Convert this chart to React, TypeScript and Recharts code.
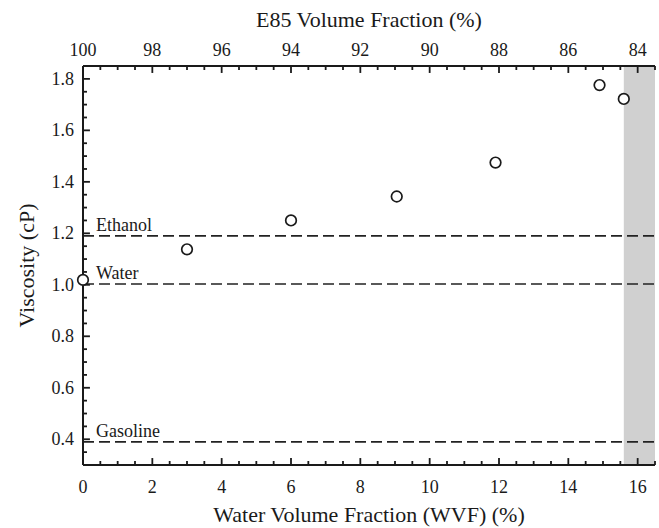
import React from "react";
import {
  ComposedChart, Scatter, XAxis, YAxis, ReferenceLine, ReferenceArea,
} from "recharts";

// water volume fraction (%) vs viscosity (cP)
const wvf = [0, 3.0, 6.0, 9.05, 11.9, 14.9, 15.6];
const viscosity = [1.019, 1.138, 1.25, 1.343, 1.475, 1.776, 1.722];

const refNames = ["Ethanol", "Water", "Gasoline"];
const refValues = [1.19, 1.003, 0.39];

const xMajor = [0, 2, 4, 6, 8, 10, 12, 14, 16];
const yMajor = [0.4, 0.6, 0.8, 1.0, 1.2, 1.4, 1.6, 1.8];

const bandStart = 15.6;
const bandEnd = 16.5;

const X_MIN = 0, X_MAX = 16.5, Y_MIN = 0.3, Y_MAX = 1.85;

const data = wvf.map((x, i) => ({ x, y: viscosity[i] }));

// minor ticks every 0.5 on x, every 0.05 on y
const xTicks: number[] = [];
for (let i = 0; i <= 33; i++) xTicks.push(i * 0.5);
const yTicks: number[] = [];
for (let i = 6; i <= 37; i++) yTicks.push(Math.round(i * 5) / 100);

const FONT = "'Liberation Serif', 'Times New Roman', serif";
const INK = "#1a1a1a";

const isMajorX = (v: number) => xMajor.some((m) => Math.abs(m - v) < 1e-6);
const isMajorY = (v: number) => yMajor.some((m) => Math.abs(m - v) < 1e-6);

// inward tick lengths in data units (~7px major, ~4px minor)
const xLen = (v: number) => (isMajorY(v) ? 0.2 : 0.115);
const yLen = (v: number) => (isMajorX(v) ? 0.027 : 0.0155);

const BottomTick = (props: any) => {
  const { x, y, payload } = props;
  if (!isMajorX(payload.value)) return <g />;
  return (
    <text x={x} y={y + 22} textAnchor="middle" dominantBaseline="central"
      fontFamily={FONT} fontSize={18} fill={INK}>
      {payload.value}
    </text>
  );
};

const TopTick = (props: any) => {
  const { x, y, payload } = props;
  if (!isMajorX(payload.value)) return <g />;
  return (
    <text x={x} y={y - 16} textAnchor="middle" dominantBaseline="central"
      fontFamily={FONT} fontSize={18} fill={INK}>
      {100 - payload.value}
    </text>
  );
};

const LeftTick = (props: any) => {
  const { x, y, payload } = props;
  if (!isMajorY(payload.value)) return <g />;
  return (
    <text x={x - 9} y={y} textAnchor="end" dominantBaseline="central"
      fontFamily={FONT} fontSize={18} fill={INK}>
      {payload.value.toFixed(1)}
    </text>
  );
};

const Circle = (props: any) => (
  <circle cx={props.cx} cy={props.cy} r={5.3} fill="white" stroke={INK} strokeWidth={1.7} />
);

const refLabel = (name: string) => (props: any) => {
  const vb = props.viewBox;
  return (
    <text x={vb.x + 13} y={vb.y - 5} fontFamily={FONT} fontSize={18} fill={INK}>
      {name}
    </text>
  );
};

export default function App() {
  return (
    <div style={{ position: "absolute", left: 0, top: 0, background: "white" }}>
      <ComposedChart width={659} height={528} data={data}
        margin={{ top: 36, right: 4, bottom: 33, left: 43 }}>
        <ReferenceArea xAxisId="bottom" yAxisId="left" x1={bandStart} x2={bandEnd}
          y1={Y_MIN} y2={Y_MAX} fill="#d0d0d0" fillOpacity={1} stroke="none" />
        <XAxis xAxisId="bottom" dataKey="x" type="number" domain={[X_MIN, X_MAX]} ticks={xTicks}
          interval={0} height={30} tickSize={0} tickMargin={0} tickLine={false}
          axisLine={{ stroke: INK, strokeWidth: 2 }} tick={<BottomTick />}
          label={{
            content: (p: any) => (
              <text x={p.viewBox.x + p.viewBox.width / 2} y={p.viewBox.y + 49}
                textAnchor="middle" dominantBaseline="central" fontFamily={FONT} fontSize={22} fill={INK}>
                Water Volume Fraction (WVF) (%)
              </text>
            ),
          }} />
        <XAxis xAxisId="top" dataKey="x" orientation="top" type="number" domain={[X_MIN, X_MAX]} ticks={xTicks}
          interval={0} height={30} tickSize={0} tickMargin={0} tickLine={false}
          axisLine={{ stroke: INK, strokeWidth: 2 }} tick={<TopTick />}
          label={{
            content: (p: any) => (
              <text x={p.viewBox.x + p.viewBox.width / 2} y={p.viewBox.y - 17}
                textAnchor="middle" dominantBaseline="central" fontFamily={FONT} fontSize={22} fill={INK}>
                E85 Volume Fraction (%)
              </text>
            ),
          }} />
        <YAxis yAxisId="left" type="number" domain={[Y_MIN, Y_MAX]} ticks={yTicks} interval={0}
          width={40} tickSize={0} tickMargin={0} tickLine={false}
          axisLine={{ stroke: INK, strokeWidth: 2 }} tick={<LeftTick />}
          label={{
            content: (p: any) => {
              const cx = 26;
              const cy = p.viewBox.y + p.viewBox.height / 2;
              return (
                <text x={cx} y={cy} transform={`rotate(-90 ${cx} ${cy})`} textAnchor="middle"
                  dominantBaseline="central" fontFamily={FONT} fontSize={22} fill={INK}>
                  Viscosity (cP)
                </text>
              );
            },
          }} />
        <YAxis yAxisId="right" orientation="right" type="number" domain={[Y_MIN, Y_MAX]} width={0}
          tick={false} tickLine={false} axisLine={{ stroke: INK, strokeWidth: 2 }} />

        {/* inward tick marks */}
        {xTicks.map((v) => (
          <ReferenceLine key={`b${v}`} xAxisId="bottom" yAxisId="left" ifOverflow="extendDomain"
            segment={[{ x: v, y: Y_MIN }, { x: v, y: Y_MIN + yLen(v) }]} stroke={INK} strokeWidth={1.8} />
        ))}
        {xTicks.map((v) => (
          <ReferenceLine key={`t${v}`} xAxisId="bottom" yAxisId="left" ifOverflow="extendDomain"
            segment={[{ x: v, y: Y_MAX }, { x: v, y: Y_MAX - yLen(v) }]} stroke={INK} strokeWidth={1.8} />
        ))}
        {yTicks.map((v) => (
          <ReferenceLine key={`l${v}`} xAxisId="bottom" yAxisId="left" ifOverflow="extendDomain"
            segment={[{ x: X_MIN, y: v }, { x: X_MIN + xLen(v), y: v }]} stroke={INK} strokeWidth={1.8} />
        ))}

        {refValues.map((v, i) => (
          <ReferenceLine key={refNames[i]} xAxisId="bottom" yAxisId="left" y={v}
            stroke="#222" strokeWidth={1.6} strokeDasharray="11 5" label={refLabel(refNames[i])} />
        ))}
        <Scatter xAxisId="bottom" yAxisId="left" dataKey="y" shape={<Circle />} isAnimationActive={false} />
        <Scatter xAxisId="top" yAxisId="right" dataKey="y" shape={() => null} legendType="none" isAnimationActive={false} />
      </ComposedChart>
    </div>
  );
}
